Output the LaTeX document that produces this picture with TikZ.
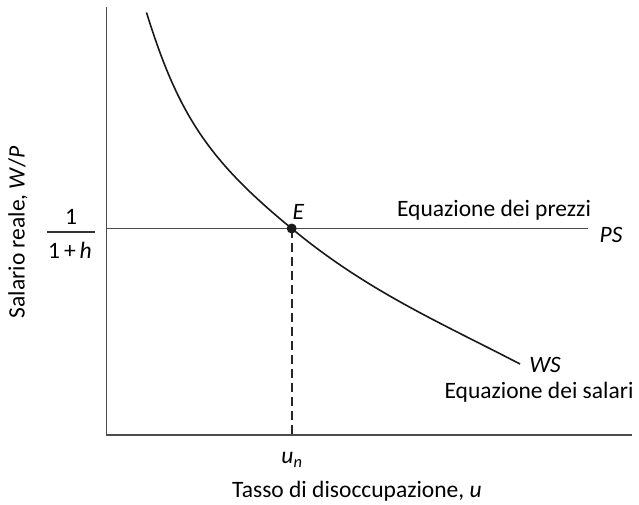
\documentclass[tikz,border=0pt]{standalone}
\usepackage{fontspec}
\setmainfont{Carlito}
\begin{document}
\begin{tikzpicture}[x=1pt,y=-1pt,
  axis/.style={draw=black!70,line width=1.4pt},
  curve/.style={draw=black!90,line width=1.6pt},
  lbl/.style={inner sep=0pt,font=\fontsize{23.5}{27}\selectfont},
  dashline/.style={draw=black!85,line width=2.4pt,dash pattern=on 9pt off 5pt}]
\useasboundingbox (0,0) rectangle (639,505);
% axes
\coordinate (ytop) at (106.7,7);
\coordinate (O) at (106.7,435);
\coordinate (xend) at (632,435);
\draw[axis] (ytop) -- (O) -- (xend);
% PS line
\coordinate (psl) at (106.7,228.5);
\coordinate (psr) at (588,228.5);
\draw[axis,line width=1.3pt] (psl) -- (psr);
% equilibrium
\coordinate (E) at (291.7,228.5);
\coordinate (un) at (291.7,435);
\draw[dashline] (E) -- (un);
% WS curve
\coordinate (ws0) at (146.5,12.5);
\coordinate (ws1) at (520,364);
\draw[curve] (ws0) .. controls (178,114) and (208,160) .. (E)
  .. controls (367,291) and (440.2,322.5) .. (ws1);
\fill[black!90] (E) circle (5pt);
% labels
\node[lbl] (one) at (71,217) {1};
\coordinate (barl) at (47,232);
\coordinate (barr) at (95,232);
\draw[black!80,line width=1.2pt] (barl) -- (barr);
\node[lbl] (oneh) at (70,250) {1\,+\,\textit{h}};
\node[lbl] (Elab) at (298.5,212) {\textit{E}};
\node[lbl] (eqp) at (494,210) {Equazione dei prezzi};
\node[lbl] (PS) at (611,235) {\textit{PS}};
\node[lbl] (WS) at (545,365) {\textit{WS}};
\node[lbl] (eqs) at (539,392) {Equazione dei salari};
\node[lbl] (unl) at (292,460) {\textit{u}\textsubscript{\textit{n}}};
\node[lbl] (xlab) at (357,491) {Tasso di disoccupazione, \textit{u}};
\node[lbl,rotate=90] (ylab) at (18,232) {Salario reale, \textit{W}/\textit{P}};
\end{tikzpicture}
\end{document}
